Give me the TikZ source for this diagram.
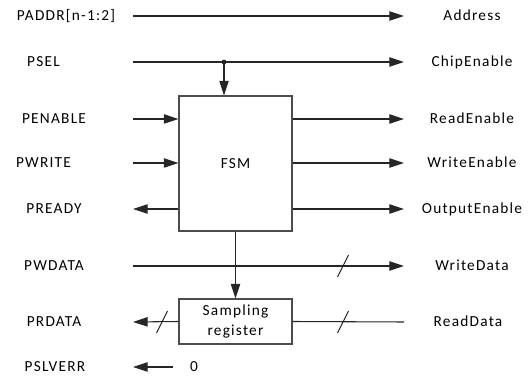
\documentclass[tikz,border=0pt]{standalone}
\usepackage{fontspec}
\setmainfont{Carlito}[LetterSpace=8]
\usetikzlibrary{arrows.meta}
\newcommand{\busmark}[1]{\draw[busmark] (#1) ++(-5.5,11) -- ++(11,-22);}

\begin{document}
\begin{tikzpicture}[x=0.75pt, y=-0.75pt,
  every node/.style={font=\fontsize{11.5}{13.5}\selectfont},
  sig/.style={inner sep=0pt, text height=7.4pt, text depth=0pt},
  blk/.style={draw=black!70, line width=0.8pt, minimum width=84.75pt,
              align=center, inner sep=0pt},
  arr/.style={-{Triangle[length=11pt, width=7pt]}, line width=0.8pt, draw=black!85},
  wire/.style={line width=0.8pt, draw=black!85},
  busmark/.style={line width=0.8pt, draw=black!85}]
\useasboundingbox (0,0) rectangle (528,377);

% line ends and tap point
\coordinate (lx) at (133,0);
\coordinate (rx) at (404,0);
\coordinate (tap) at (224,62);

% APB side
\node[sig] (paddr)   at (66,16)   {PADDR[n-1:2]};
\node[sig] (psel)    at (43.5,62) {PSEL};
\node[sig] (penable) at (54,119)  {PENABLE};
\node[sig] (pwrite)  at (43.5,163){PWRITE};
\node[sig] (pready)  at (54,209)  {PREADY};
\node[sig] (pwdata)  at (54,266)  {PWDATA};
\node[sig] (prdata)  at (54,322)  {PRDATA};
\node[sig] (pslverr) at (55,367)  {PSLVERR};
\node[sig] (zero)    at (194,367) {0};

% memory side
\node[sig] (address) at (472,16)  {Address};
\node[sig] (chipen)  at (472,62)  {ChipEnable};
\node[sig] (readen)  at (472,119) {ReadEnable};
\node[sig] (writeen) at (472,163) {WriteEnable};
\node[sig] (outen)   at (472,209) {OutputEnable};
\node[sig] (wdata)   at (472,266) {WriteData};
\node[sig] (rdata)   at (468,322) {ReadData};

% blocks
\node[blk, minimum height=101.25pt] (fsm) at (235.5,163.5) {FSM};
\node[blk, minimum height=33.75pt,
      font=\fontsize{11.5}{15.5}\selectfont] (samp) at (235.5,321.5)
  {Sampling\\register};

% connections
\draw[arr] (paddr -| lx) -- (address -| rx);
\draw[arr] (psel -| lx) -- (chipen -| rx);
\fill[black!85] (tap) circle (1.8pt);
\draw[arr] (tap) -- (tap |- fsm.north);
\draw[arr] (penable -| lx) -- (penable -| fsm.west);
\draw[arr] (pwrite -| lx) -- (pwrite -| fsm.west);
\draw[arr] (pready -| fsm.west) -- (pready -| lx);
\draw[arr] (readen -| fsm.east) -- (readen -| rx);
\draw[arr] (writeen -| fsm.east) -- (writeen -| rx);
\draw[arr] (outen -| fsm.east) -- (outen -| rx);
\draw[arr] (fsm.south) -- (samp.north);
\draw[arr] (pwdata -| lx) -- (wdata -| rx);
\draw[arr] (samp.west) -- (prdata -| lx);
\draw[wire] (rdata -| rx) -- (samp.east);
\draw[arr, shorten <=13pt] (zero.west) -- (pslverr -| lx);

% bus widths
\busmark{343,266}
\busmark{162,322}
\busmark{343,322}
\end{tikzpicture}
\end{document}
